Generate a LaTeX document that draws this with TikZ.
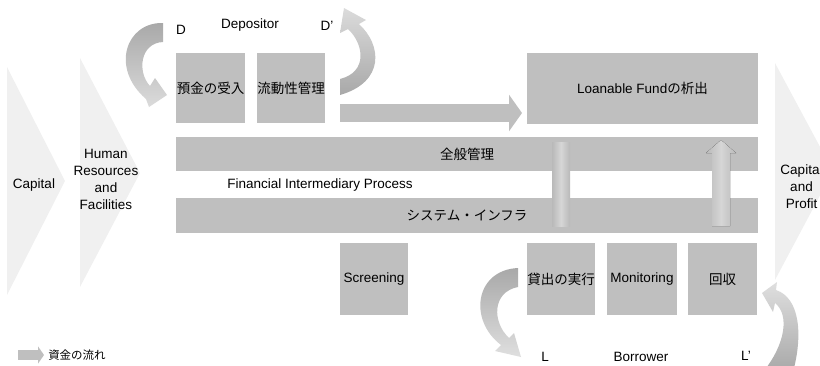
\documentclass[tikz,border=0pt]{standalone}
\usepackage{fontspec}
\setmainfont{Liberation Sans}
\newfontfamily\jp{Noto Sans CJK JP}
\usetikzlibrary{arrows.meta}
\begin{document}
\begin{tikzpicture}[x=1pt,y=-1pt,
  txt/.style={font=\fontsize{13.5}{17}\selectfont, inner sep=0pt, align=center},
  procbox/.style={fill=gray!50, draw=none, inner sep=0pt, font=\fontsize{13.5}{17}\selectfont},
  chev/.style={fill=gray!12, draw=none},
  flow/.style={draw=gray!50, line width=18pt, -{Triangle[length=13pt,width=36pt]}},
  vbar/.style={left color=gray!55, right color=gray!55, middle color=gray!32, draw=none},
]
\useasboundingbox (0,0) rectangle (820,365);
\clip (0,0) rectangle (820,365);

% chevrons
\fill[chev] (7,67) -- (65,181) -- (7,295) -- cycle;
\fill[chev] (80,58) -- (140,173) -- (80,287) -- cycle;
\fill[chev] (775,63) -- (833,171) -- (775,280) -- cycle;

% boxes
\node[procbox, minimum width=69pt, minimum height=70pt] (dep) at (210.5,88) {\jp 預金の受入};
\node[procbox, minimum width=68pt, minimum height=70pt] (liq) at (291,88) {\jp 流動性管理};
\node[procbox, minimum width=231pt, minimum height=71pt] (loan) at (642.5,88.5) {Loanable Fund{\jp の析出}};
\node[procbox, minimum width=582pt, minimum height=34pt] (gen) at (467,154) {\jp 全般管理};
\node[procbox, minimum width=582pt, minimum height=35pt] (sys) at (467,215.5) {\jp システム・インフラ};
\node[procbox, minimum width=68pt, minimum height=72pt] (scr) at (374,279) {Screening};
\node[procbox, minimum width=68pt, minimum height=72pt] (exe) at (561,279) {\jp 貸出の実行};
\node[procbox, minimum width=70pt, minimum height=72pt] (mon) at (642,279) {Monitoring};
\node[procbox, minimum width=69pt, minimum height=72pt] (kai) at (722.5,279) {\jp 回収};

% vertical arrows
\fill[vbar] (552,142) rectangle (570,226);
\fill[vbar] (712,226) -- (712,153) -- (706,153) -- (721,140) -- (736,153) -- (730,153) -- (730,226) -- cycle;

% horizontal flow arrow
\coordinate (h1) at (340,113);
\coordinate (h2) at (522,113);
\draw[flow] (h1) -- (h2);

% labels
\node[txt] (D) at (181,30) {D};
\node[txt] (depositor) at (250,25) {Depositor};
\node[txt] (Dp) at (327,26) {D’};
\node[txt] (fip) at (320,185) {Financial Intermediary Process};
\node[txt] (cap) at (34,185) {Capital};
\node[txt] (hr) at (106,179) {Human\\Resources\\and\\Facilities};
\node[txt] (cp) at (801.5,187) {Capital\\and\\Profit};
\node[txt] (L) at (545,357) {L};
\node[txt] (bor) at (641,357) {Borrower};
\node[txt] (Lp) at (746,356) {L’};

% curved arrows
\path[top color=gray!68, bottom color=gray!28]
  (163,23) .. controls (126,22) and (110,68) .. (146,99)
  -- (149,107) -- (167,95) -- (155,78) -- (150,86)
  .. controls (137,72) and (140,43) .. (163,42) -- cycle;
\path[top color=gray!28, bottom color=gray!68]
  (340,79) .. controls (368,72) and (364,44) .. (348,29)
  -- (340,33) -- (344,8) -- (366,20) -- (359,24)
  .. controls (382,45) and (385,82) .. (340,95) -- cycle;
\path[top color=gray!68, bottom color=gray!25]
  (518,268) .. controls (475,270) and (468,320) .. (501,345)
  -- (495,351) -- (521,357) -- (514,333) -- (509,338)
  .. controls (492,322) and (492,292) .. (518,287) -- cycle;
\path[top color=gray!25, bottom color=gray!68]
  (776,290) .. controls (800,298) and (803,335) .. (793,372)
  -- (763,372) .. controls (785,345) and (790,315) .. (775,303)
  -- (773,312) -- (762,293) -- (777,282) -- cycle;

% legend
\coordinate (lg1) at (18,355);
\coordinate (lg2) at (44,355);
\draw[draw=gray!50, line width=10pt, -{Triangle[length=6pt,width=17pt]}] (lg1) -- (lg2);
\node[font=\fontsize{11.5}{14}\selectfont, inner sep=0pt] (lgt) at (77,355) {\jp 資金の流れ};
\end{tikzpicture}
\end{document}
